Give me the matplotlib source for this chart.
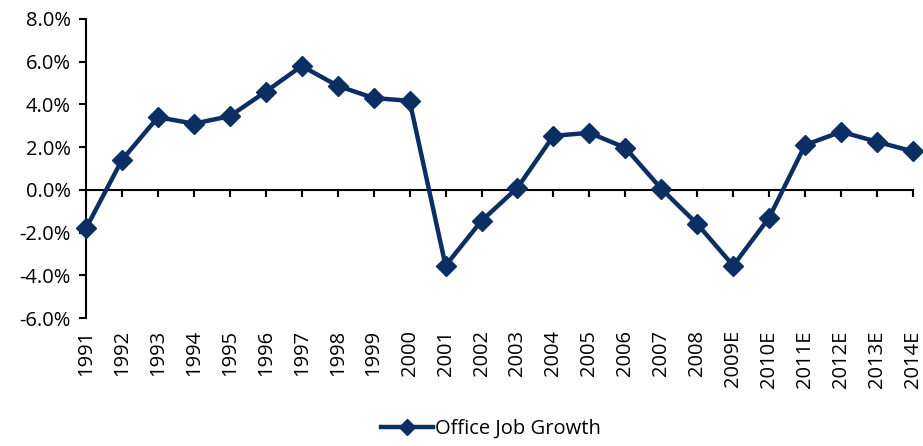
import numpy as np
import matplotlib.pyplot as plt
from matplotlib.ticker import FuncFormatter

# Data
years = ['1991', '1992', '1993', '1994', '1995', '1996', '1997', '1998', '1999', '2000',
         '2001', '2002', '2003', '2004', '2005', '2006', '2007', '2008', '2009E', '2010E',
         '2011E', '2012E', '2013E', '2014E']
growth = [-1.8, 1.4, 3.4, 3.1, 3.45, 4.6, 5.8, 4.87, 4.3, 4.17,
          -3.55, -1.45, 0.1, 2.53, 2.67, 1.97, 0.05, -1.6, -3.55, -1.3,
          2.1, 2.72, 2.25, 1.8]
y_ticks = [-6, -4, -2, 0, 2, 4, 6, 8]

plt.rcParams['font.family'] = ['Open Sans', 'DejaVu Sans']
navy = '#0c2f63'

fig = plt.figure(figsize=(9.23, 4.46), dpi=100)
ax = fig.add_axes([86 / 923, (446 - 318) / 446, (913 - 86) / 923, (318 - 19) / 446])

x = np.arange(len(years))
ax.plot(x, growth, color=navy, lw=3.2, marker='D', markersize=10,
        label='Office Job Growth', clip_on=False, zorder=3)

ax.set_xlim(0, len(years) - 1)
ax.set_ylim(-6, 8)
ax.set_yticks(y_ticks)
ax.yaxis.set_major_formatter(FuncFormatter(lambda v, p: f'{v:.1f}%'))

ax.spines['top'].set_visible(False)
ax.spines['right'].set_visible(False)
ax.spines['bottom'].set_position(('data', 0))
for s in ['left', 'bottom']:
    ax.spines[s].set_linewidth(1.5)
    ax.spines[s].set_zorder(2)

ax.set_xticks(x)
ax.set_xticklabels(years, rotation=90, fontsize=14.5)
ax.tick_params(axis='x', direction='out', length=5, width=1.5, pad=96)
ax.tick_params(axis='y', direction='out', length=5, width=1.5, labelsize=14.5, pad=6)

leg = fig.legend(loc='lower center', bbox_to_anchor=(0.532, -0.025), frameon=False,
                 fontsize=14.5, handlelength=2.6, handletextpad=0.1, markerscale=0.8)

plt.savefig('out.png', dpi=100)
